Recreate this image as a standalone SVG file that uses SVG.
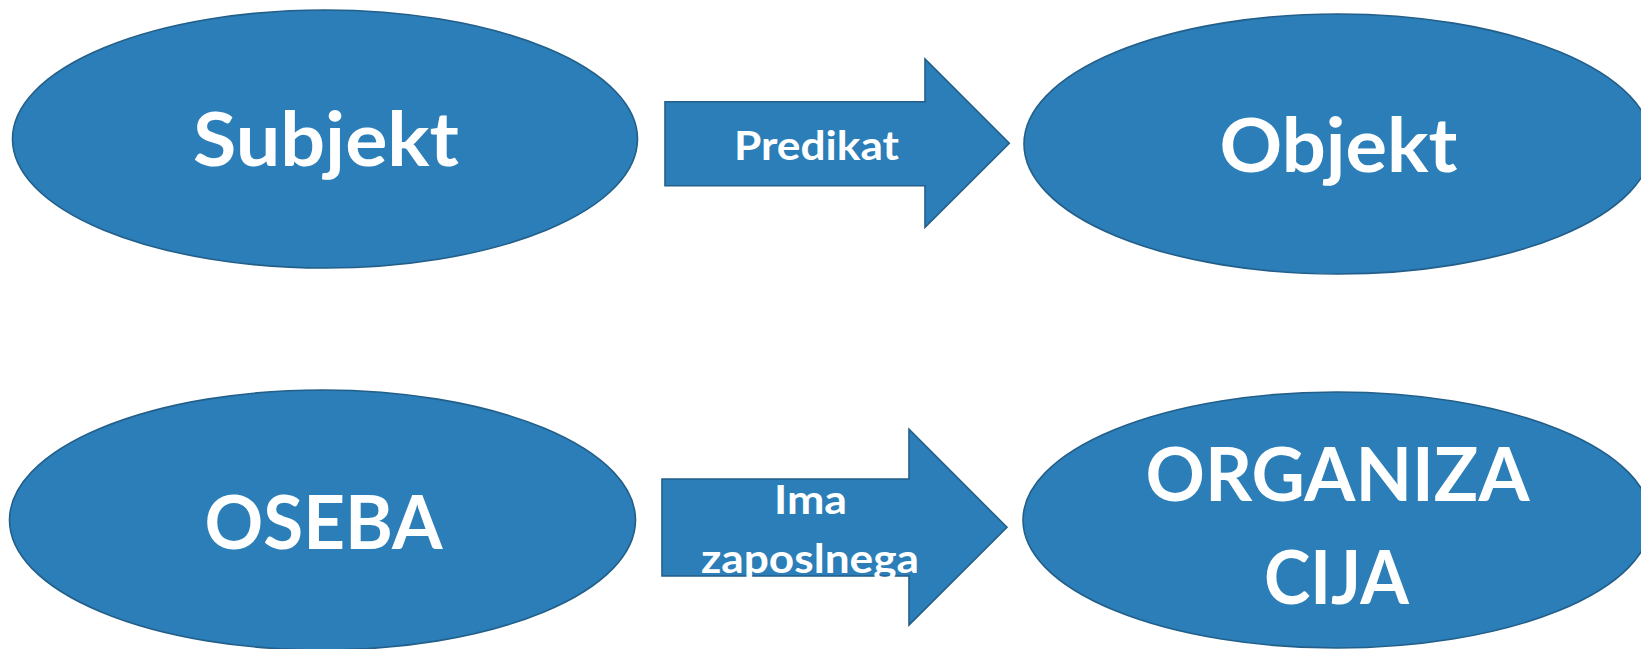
<svg xmlns="http://www.w3.org/2000/svg" width="1641" height="649" viewBox="0 0 1641 649">
  <style>
    .shape { fill: #2B7EB7; stroke: #225F8A; stroke-width: 1.6; }
    .big { font-family: Lato, "Open Sans", "Liberation Sans", sans-serif; font-weight: 700; font-size: 75px; fill: #FFFFFF; text-anchor: middle; }
    .lbl { font-family: Lato, "Open Sans", "Liberation Sans", sans-serif; font-weight: 700; font-size: 41px; fill: #FFFFFF; text-anchor: middle; }
  </style>
  <rect x="0" y="0" width="1641" height="649" fill="#FFFFFF"/>
  <g id="connectors">
    <g id="edge-predikat">
      <polygon class="shape" points="665,101.7 925,101.7 925,59 1009.3,143.3 925,227.3 925,185.7 665,185.7"/>
      <text class="lbl" x="816.5" y="160" textLength="165" lengthAdjust="spacingAndGlyphs">Predikat</text>
    </g>
    <g id="edge-ima">
      <polygon class="shape" points="662,479 909,479 909,429.3 1007,527.3 909,625 909,576 662,576"/>
      <text class="lbl" x="810.5" y="514" textLength="73" lengthAdjust="spacingAndGlyphs">Ima</text>
      <text class="lbl" x="810" y="573" textLength="218" lengthAdjust="spacingAndGlyphs">zaposlnega</text>
    </g>
  </g>
  <g id="node-subjekt">
    <ellipse class="shape" cx="325" cy="139" rx="312.5" ry="129"/>
    <text class="big" x="326" y="166" textLength="266" lengthAdjust="spacingAndGlyphs">Subjekt</text>
  </g>
  <g id="node-objekt">
    <ellipse class="shape" cx="1338" cy="144" rx="314" ry="130"/>
    <text class="big" x="1338.5" y="172" textLength="238" lengthAdjust="spacingAndGlyphs">Objekt</text>
  </g>
  <g id="node-oseba">
    <ellipse class="shape" cx="322.5" cy="520" rx="313" ry="130"/>
    <text class="big" x="323.5" y="549" textLength="238" lengthAdjust="spacingAndGlyphs">OSEBA</text>
  </g>
  <g id="node-organizacija">
    <ellipse class="shape" cx="1337" cy="520" rx="314" ry="128"/>
    <text class="big" x="1337.5" y="501" textLength="384" lengthAdjust="spacingAndGlyphs">ORGANIZA</text>
    <text class="big" x="1336.5" y="604" textLength="145" lengthAdjust="spacingAndGlyphs">CIJA</text>
  </g>
</svg>
